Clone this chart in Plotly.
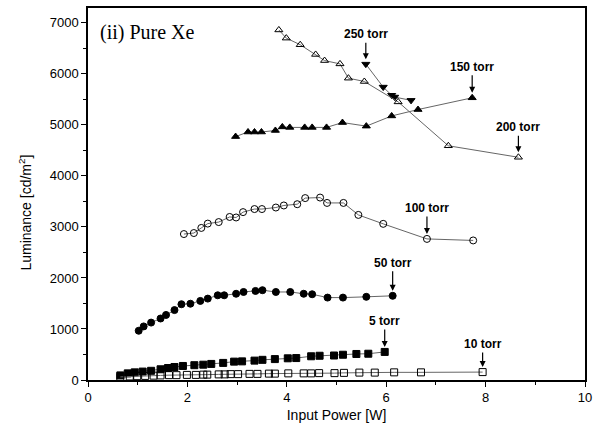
import plotly.graph_objects as go

# ---- data ----
p250_x = [5.59, 5.94, 6.11, 6.17, 6.50]
p250_y = [6190, 5740, 5580, 5545, 5480]

p200_x = [3.84, 3.99, 4.27, 4.58, 4.76, 5.07, 5.24, 5.56, 6.24, 7.25, 8.66]
p200_y = [6860, 6700, 6570, 6380, 6260, 6195, 5915, 5850, 5450, 4590, 4365]

p150_x = [2.97, 3.22, 3.35, 3.49, 3.77, 3.91, 4.06, 4.36, 4.51, 4.80, 5.12, 5.60, 6.11, 6.64, 7.73]
p150_y = [4770, 4860, 4860, 4860, 4890, 4960, 4950, 4950, 4950, 4950, 5045, 4975, 5175, 5300, 5530]

p100_x = [1.93, 2.13, 2.28, 2.41, 2.63, 2.85, 2.98, 3.12, 3.35, 3.50, 3.78, 3.94, 4.21,
          4.37, 4.67, 4.81, 5.14, 5.44, 5.94, 6.82, 7.75]
p100_y = [2860, 2880, 2980, 3065, 3095, 3195, 3185, 3290, 3350, 3350, 3380, 3420, 3445,
          3565, 3575, 3470, 3470, 3235, 3060, 2765, 2735]

p50_x = [1.02, 1.12, 1.27, 1.46, 1.57, 1.74, 1.88, 2.06, 2.26, 2.41, 2.61, 2.74, 2.98, 3.13,
         3.37, 3.51, 3.78, 4.07, 4.34, 4.51, 4.82, 5.13, 5.60, 6.13]
p50_y = [965, 1050, 1125, 1205, 1275, 1370, 1485, 1495, 1550, 1595, 1660, 1660, 1690, 1725,
         1745, 1760, 1725, 1725, 1690, 1680, 1615, 1615, 1630, 1650]

p5_x = [0.65, 0.80, 0.94, 1.10, 1.27, 1.46, 1.61, 1.74, 1.91, 2.14, 2.32, 2.48, 2.72, 2.94,
        3.10, 3.35, 3.51, 3.76, 4.02, 4.19, 4.49, 4.66, 4.95, 5.13, 5.40, 5.64, 5.97]
p5_y = [90, 130, 150, 165, 180, 210, 235, 255, 275, 290, 300, 315, 335, 360,
        365, 380, 395, 410, 425, 430, 465, 475, 480, 495, 510, 515, 550]

p10_x = [0.65, 0.84, 0.99, 1.15, 1.32, 1.46, 1.63, 1.78, 1.99, 2.17, 2.32, 2.40, 2.63, 2.75,
         2.87, 3.02, 3.25, 3.41, 3.64, 3.76, 4.03, 4.34, 4.49, 4.65, 4.96, 5.15, 5.46, 5.77,
         6.16, 6.70, 7.94]
p10_y = [60, 70, 75, 80, 85, 90, 95, 95, 100, 100, 105, 105, 110, 110,
         115, 115, 120, 120, 125, 125, 130, 130, 130, 135, 135, 140, 145, 145,
         150, 150, 155]

labels = ["250 torr", "200 torr", "150 torr", "100 torr", "50 torr", "5 torr", "10 torr"]
x_ticks = [0, 2, 4, 6, 8, 10]
y_ticks = [0, 1000, 2000, 3000, 4000, 5000, 6000, 7000]

LINE = dict(color="#666666", width=1)

series = [
    (p250_x, p250_y, "triangle-down", "black"),
    (p200_x, p200_y, "triangle-up-open", "black"),
    (p150_x, p150_y, "triangle-up", "black"),
    (p100_x, p100_y, "circle-open", "black"),
    (p50_x, p50_y, "circle", "black"),
    (p5_x, p5_y, "square", "black"),
    (p10_x, p10_y, "square-open", "black"),
]

fig = go.Figure()
for (xs, ys, sym, col), name in zip(series, labels):
    fig.add_trace(go.Scatter(
        x=xs, y=ys, mode="lines+markers", name=name,
        line=LINE,
        marker=dict(symbol=sym, size=7, color=col,
                    line=dict(color="black", width=1)),
        showlegend=False,
    ))

label_pts = [
    (p250_x[0], p250_y[0], -30),
    (p200_x[-1], p200_y[-1], -30),
    (p150_x[-1], p150_y[-1], -31),
    (p100_x[-2], p100_y[-2], -31),
    (p50_x[-1], p50_y[-1], -33),
    (p5_x[-1], p5_y[-1], -31),
    (p10_x[-1], p10_y[-1], -28),
]
for (x, y, ay), txt in zip(label_pts, labels):
    fig.add_annotation(
        x=x, y=y, text="<b>" + txt + "</b>", showarrow=True,
        ax=0, ay=ay, arrowhead=2, arrowsize=1, arrowwidth=1.2,
        arrowcolor="black", standoff=5,
        font=dict(family="Liberation Sans, Arial", size=12, color="black"),
    )

fig.add_annotation(
    x=0, y=1, xref="paper", yref="paper", xanchor="left", yanchor="top",
    xshift=10, yshift=-11,
    text="(ii) Pure Xe", showarrow=False,
    font=dict(family="Liberation Serif, Times New Roman", size=20, color="black"),
)

fig.add_annotation(
    x=0, y=0.45, xref="paper", yref="paper", xanchor="center", yanchor="middle",
    xshift=-63, text="Luminance [cd/m<sup>2</sup>]", textangle=-90, showarrow=False,
    font=dict(family="Liberation Sans, Arial", size=14, color="black"),
)

fig.update_layout(
    width=601, height=443,
    margin=dict(l=88, r=16, t=6, b=63),
    plot_bgcolor="white", paper_bgcolor="white",
    font=dict(family="Liberation Sans, Arial", size=13, color="black"),
)
fig.update_xaxes(
    range=[0, 10], tickvals=x_ticks, ticktext=[str(v) for v in x_ticks],
    showgrid=False, zeroline=False,
    showline=True, linecolor="black", linewidth=1.5, mirror=True,
    ticks="outside", ticklen=5, tickwidth=1.2, tickcolor="black",
    minor=dict(ticks="outside", ticklen=3, dtick=1, tickcolor="black", tickwidth=1),
    tickfont=dict(size=13, family="Liberation Sans, Arial"),
    title=dict(text="Input Power [W]", font=dict(size=14), standoff=6),
)
fig.update_yaxes(
    range=[0, 7290], tickvals=y_ticks, ticktext=[str(v) for v in y_ticks],
    showgrid=False, zeroline=False,
    showline=True, linecolor="black", linewidth=1.5, mirror=True,
    ticks="outside", ticklen=5, tickwidth=1.2, tickcolor="black",
    minor=dict(ticks="outside", ticklen=3, dtick=500, tickcolor="black", tickwidth=1),
    tickfont=dict(size=13, family="Liberation Sans, Arial"),
)

fig.write_html("out.html",
               config={"displayModeBar": False},
               post_script="document.body.style.margin='0';document.body.style.padding='0';")
